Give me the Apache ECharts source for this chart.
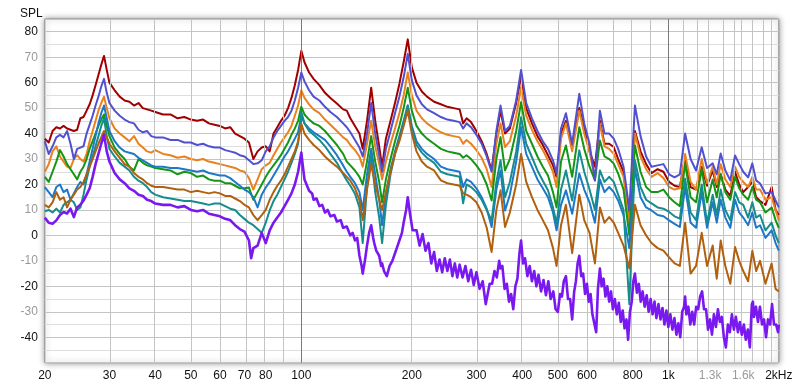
<!DOCTYPE html>
<html>
<head>
<meta charset="utf-8">
<script src="https://cdn.jsdelivr.net/npm/echarts@6/dist/echarts.min.js"></script>
<style>
html,body{margin:0;padding:0;background:#fff;}
#c{width:800px;height:386px;}
</style>
</head>
<body>
<div id="c"></div>
<script>
// ---- shared frequency grid (Hz) ----
const FREQ = [20,20.5,21,21.5,22,22.5,23,23.5,24,24.5,25,25.5,26,26.5,27,27.5,28,28.5,29,29.5,30,
31,32,33,34,35,36,37,38,39,40,42,44,46,48,50,52,54,56,58,60,62,64,66,68,70,72,74,76,78,80,82,84,86,88,90,92,94,96,98,
100,102,105,108,112,116,120,125,130,133,136,140,144,147,151,155,159,163,166,170,175,180,185,190,195,200,
206,213,220,230,240,250,260,270,276,282,290,300,310,320,330,340,349,359,370,385,397,410,425,440,455,470,485,496,
510,526,547,572,590,610,631,651,670,690,710,730,755,783,811,840,870,900,935,970,1005,1040,1075,1111,1150,1190,1233,1275,1321,1355,1389,1430,1475,1520,1560,1600,1650,1694,1735,1778,1840,1912,1960,2000];

const RED = [38,36.5,41,42.5,42,43,42,41.5,41,41.5,46,46.5,49,51.5,55,59,63,67,70.5,65,60,
57,54.5,53,52.5,51,52,50,49.5,49,48.5,47.5,47.5,46,46.5,45.5,45,45.5,44,43.5,43,42,42.5,40,39,38,36.5,30,33,34.5,35,33,40,42.5,45,47,50,54,59,65,
72.5,68,64,61.5,59,56,54,51.8,49.5,49,46,43,40,34,45,58,45,35,27,38,45,52,59.5,68,77,66,
60,56.5,54.5,52.5,51.5,50.5,50,49.5,44,46,44.5,41,37,32,25.5,40,49,40,42,52,62.5,50,44,39,35.5,31.5,27.5,23,
40,45,34.5,50,42,33,27,45,36,36,34.7,30,25,6,41,33,28,24.5,26,25,21,19.5,19,30.5,19,18,27,19.5,25.5,19,24,18,15.5,25,20,17,19,21,15,13.5,12,19,10,8];

const VIOLET = [37,32,35,38.5,39.5,38.5,41,36,30,34,34.5,35,40,43.5,47,51,54.5,58.5,61.5,56,52,
49,47,45.5,44.5,44,41.5,40.5,41,39,38.5,38.5,37.5,37.5,36.5,36.5,35.5,36,35,34.5,34.5,33.5,33,32.5,31.5,31,29.5,28,28.3,29.5,33,35,38.5,41,43,45,46.5,49,53,58,
64,60.5,57,54.5,53,50.5,48.5,46.5,44,42.5,40.5,37.5,34.5,31,40,52,40,31.5,25,34,41,48,54.5,62,71.3,61,
55,51.5,49.5,48,46.5,45.5,45,44.5,42,44,42.5,39.5,36,31,25,41,51,41,43,53,65,52,46,41,37,34,29.5,24.3,
42,48,36,55.6,44,36,21.6,49,40,40,38,34,27,10,51,39,31,27,27.5,28,24,22.8,24,40,30,25.5,34.6,26.5,28.3,24,32.2,25.5,21.6,31.4,28,25,22.8,28.3,21.6,20.4,16.5,17,13.7,11];

const ORANGE = [25,28,33,35,31,29,27,26.5,30,31.5,30,29,32,37,41,45,49,52,54.5,50,46,
42,40,38.5,37,39,36,34.5,33,32.5,33.5,32,31.5,30.5,31,30,29.5,30,29,28.5,28,27.5,27,26.5,25.5,25,22.5,18,22,26,27.5,28.5,31.5,34,36.5,38.5,40.5,43,47,51,
57,54,51.5,49.5,48,45.5,43.5,41,38.5,37.5,35.5,33.5,31,27,36,45,35,28,22,29,36,42,48,55,64,55,
49,46,44,42,40.5,39.5,39,38.5,36,37.5,36,33.5,30.5,26,19,36,44,34.7,37,47,58.2,47,41.5,37,33.5,29.5,25,19,
38,44,33,49,40,33,22,44,35,34,32,28,23,4,40,31,26,23,24.5,22.5,19,18,18.5,32,21,18,30,20.5,27,20,28,22,19,27,23,21,19,23,18,18,14,15,10,6];

const GREEN = [23,21,25,29,33.5,31,28,26,24,22,25,27,30,34,37,40,43,45.5,47.5,43,39,
34.5,32,30,27,25.5,30,28.5,27.5,27,26.5,26,25.5,24,25,24.5,23,23.5,22,21.5,21.5,20.5,20.5,19.5,18.5,18.5,18.8,14,17,20,23,25.5,27.5,29.5,31.5,34,36.5,39.5,42,45,
50.5,47.5,45.5,44,43,41,38.5,35.5,32,29,27.5,25.5,23,20,29,39,29,21,13,22,30,37,43,50,58,49,
43,40,38,36,34,33,32.5,32,30.5,31.5,30,27.5,24.5,20,13.7,30,38.6,25.5,30,41,52.3,41,36,31,27,23.5,17,11,
29,35.3,23,42.5,34,27,21.6,37.3,31,30,28.2,24.3,18,0,35.3,25,19,17,17,18,15,13,11.5,28.2,15,13,26,13,22,15,24,17,14,23,18.5,16,14,19,14,13,9,11,6,3];

const BLUE = [19,17,15,19,20,17,18,14,16.5,19,21,20,24,29,34,39,44,48,51,46,41,
37,34.5,33,32.5,32,30.5,29.5,28.5,27.5,27,27,26.5,26.5,26,25.5,25,25.5,24.5,24,23.5,23.5,22.5,21,19.5,18,17,15,11,16,18.8,21,23.5,26,28.5,31,33,35.5,38,40.5,
47,44,42,40.5,39,37.5,35,31.5,27.5,25,23,20.5,17,10,24,34,24,14,4,16,26,33,39,45,51,43,
37,34,32,30,27,26,25.5,25,19,22,21,18.5,15,10.5,3.3,18,25.5,9.8,16,29,42.5,32,27,22,18.5,15,9,2,
12,17.7,8.5,24.3,18,13,5,22,17,19,17,13.7,8,-5,26,15,11,9.8,8,7.5,5.9,4.5,3.3,19,5,3,17,3,13,5,14,7,3,14,9,7,4,9,3,4,-1,2,-3,-6];

const TEAL = [9.5,10,9,10.5,9,12,13,14,13,10,11,16,22,27,31,35,39,43,46,39,34,
31,28.5,27,25.5,23,21.5,20.5,19,17,16,15,14.5,14,13.5,13.5,13,12.5,12,12.5,12.5,11.5,10.5,10,8,6.5,5,4,2.5,1,5,9.8,13.5,16,19,22,25,28.5,32,36,
48.5,44,41,39.5,37.5,35,32,28.5,24,21.6,19.5,16.4,11,-3,19,31,17,7,-3,12,24,32,38,44,51,42,
35.5,32.5,30.5,28.5,25,24,23.5,23,12.6,20,19,17,14,10,5.9,21,29.5,15,21,33,46.4,36,30.7,25.5,21.5,17.7,11,4.7,
18,25.5,13.7,33.4,25,18,10,25.5,21,23,21,16,10,-27,29.5,19,14,12.6,11,10.5,9.2,7.5,6.6,22.3,9,6,20,5,16,8,18,10,6,17,13,12,7,13,7,8,2,5,0,-3];

const BROWN = [12,11,13,17,14,15,11,14,16,18,19,21,24,27,30,33,36,38.5,41,38.5,36,
33,30.5,28,27,24.5,23,22,20.5,19.5,19,19,18.5,18,18,17,17.5,17,16.5,17,16.5,15.5,15.5,14.5,13.5,12,11,8,6,8,10,14,17,19.5,21.5,24,27,30,33,37,
43.8,40,37.5,35.5,33.5,31,29,27,24.5,23,21.5,18.5,14,6,18,28,20,14,10,17,25,32,37,43,49,40,
33,29,27,25.5,21.6,20.5,20,19.5,16.5,16,15,13,9,3,-6.5,10,17.7,3.3,9,20,32,21,15,10,6,2,-5,-12,
4,12,-7,16,6,1,-11,11,5,7.2,5,1,-4,-13,12,4,0,-3,-5,-6,-8.6,-11,-12,5,-15,-12,1,-12,-4,-17,-2,-12,-19,-4.6,-10,-14,-18,-6,-14,-10,-19,-11,-21,-22];

// ---- purple series has its own, denser frequency list ----
const PURPLE_FREQ = [20,20.5,21,21.5,22,22.5,23,23.5,24,24.5,25,25.5,26,26.5,27,27.5,28,28.5,29,29.5,30,
31,32,33,34,35,36,37,38,39,40,42,44,46,48,50,52,54,56,58,60,62,64,66,68,70,72,73,74,76,78,80,82,84,86,88,90,92,94,96,98,
100,101,102,104,105,107,108,110,112,114,116,118,120,123,125,128,130,133,136,138,140,142,144,146,147,149,151,153,155,157,158,160,163,165,166,168,171,174,177,180,183,185,188,190,193,195,198,201,
206,210,214,218,222,226,230,234,238,242,246,250,254,258,262,266,270,275,280,285,290,295,300,306,312,318,322,326,331,336,341,346,349,353,358,363,368,373,378,383,388,393,397,402,407,413,419,425,431,437,443,450,457,464,471,478,486,493,500,507,513,519,526,533,540,547,554,560,566,572,579,586,593,600,607,614,621,628,636,643,651,658,666,674,682,690,698,706,715,724,733,742,751,760,769,777,786,795,803,811,821,831,841,851,862,873,884,895,906,917,928,940,952,964,976,988,1000,1013,1026,1039,1052,1065,1078,1091,1104,1111,1120,1134,1148,1162,1176,1191,1206,1221,1236,1251,1267,1283,1299,1315,1331,1348,1365,1382,1399,1417,1435,1453,1471,1490,1509,1528,1547,1566,1586,1606,1626,1647,1668,1689,1700,1711,1733,1755,1777,1800,1823,1846,1869,1893,1917,1941,1966,1991,2000];

const PURPLE = [7,5,4.6,5.9,8,9.2,8.6,10.5,7.2,11,12,13.7,16,18.5,23,28,32,36,39.5,33,29,
24.5,22,20.5,18.5,17.5,16,15.5,14,13.5,12.5,12,12,11,11.5,10,9.5,10,8.5,8,7.5,6.5,6,4,2.5,1.5,-2,-9,-5,-4,1,-3,2,5,7,9,11.5,14,16.5,20,25,
32.5,27,22,19,17.5,16.5,14,14.5,11.5,12,9,10,7.5,8,5.5,6,3,3.5,0,1,-2,-1,-8,-12,-15,-10,-4,1,4,-1,-3,-6,-8,-12,-11,-14,-16,-12,-10,-7,-4,-2,1,5,10,15,8,2,
2,-4,0.5,-6,-3,-11,-6.5,-14,-9.5,-14.5,-9,-14,-9.5,-16,-11,-16.5,-11.5,-16.5,-12,-18,-13.5,-19.5,-14.5,-21,-18,-27,-27,-19,-19,-14,-16.5,-10,-13,-12,-21,-19,-26,-23,-29,-20,-17,-7,-2,-11,-9,-16,-12,-18,-14,-20,-15.5,-22,-17.5,-23.5,-18,-25,-22,-29,-30,-23,-24,-18,-16,-25,-25,-33,-22,-18,-11,-8,-16,-15,-23,-19,-26,-23,-31,-31,-38,-21,-13,-20,-17,-24,-20,-26,-22,-29,-25,-31,-26.5,-34,-29.5,-36.5,-33,-41,-30,-26,-18,-15,-22.5,-19,-26,-22,-28,-23.5,-30,-25,-31,-26,-32.5,-27,-33,-28.5,-35,-29.5,-36,-31,-37,-32.5,-39,-34.5,-40,-30,-28,-24,-31,-28,-35,-30,-35,-28,-29,-24,-22,-29,-29,-37,-33,-39,-31,-36,-29,-34,-32,-40,-44,-35,-38,-31,-37,-32,-38,-34,-39,-35,-41,-37,-44,-27,-26,-32,-28,-34,-28,-35,-33,-40,-33,-35,-27,-35,-35,-38,-35];

// ---- axes / ticks ----
const X_LABEL_FREQS = [20,30,40,50,60,70,80,100,200,300,400,500,600,800,1000,1300,1600,2000];
const X_LABEL_TEXT  = ['20','30','40','50','60','70','80','100','200','300','400','500','600','800','1k','1.3k','1.6k','2kHz'];
const X_LABEL_GRAY  = ['1.3k','1.6k'];
const X_GRID_FREQS  = [30,40,50,60,70,80,90,200,300,400,500,600,700,800,900,1100,1200,1300,1400,1500,1600,1700,1800,1900];
const X_GRID_DARK   = [100,1000];
const Y_MIN = -50, Y_MAX = 85, Y_STEP = 10;

const SERIES_NAMES  = ['red','violet','orange','green','blue','teal','brown','purple'];
const SERIES_COLORS = ['#a00000','#5050d0','#e8821e','#149614','#1e78c8','#168c8c','#b0600e','#7a18f0'];

const lg = Math.log10;
function pts(fs, vs){ return fs.map((f,i)=>[lg(f), vs[i]]); }

const chart = echarts.init(document.getElementById('c'), null, {renderer:'canvas'});
const FONT = 'Liberation Sans, Arial, sans-serif';

const dataSets = [
  pts(FREQ, RED), pts(FREQ, ORANGE), pts(FREQ, GREEN), pts(FREQ, BLUE),
  pts(FREQ, TEAL), pts(FREQ, BROWN), pts(FREQ, VIOLET), pts(PURPLE_FREQ, PURPLE)
];
const order = [0,2,3,4,5,6,1,7];

const series = [{
  type:'line', name:'grid', data:[], silent:true, z:1,
  markLine:{
    silent:true, symbol:['none','none'], animation:false,
    label:{show:false},
    lineStyle:{color:'#c4c4c4', type:'solid', width:1},
    data: X_GRID_FREQS.map(f=>({xAxis: lg(f)})).concat(
      X_GRID_DARK.map(f=>({xAxis: lg(f), lineStyle:{color:'#7a7a7a', type:'solid', width:1}})))
  }
}];
dataSets.forEach((d,i)=>{
  const c = SERIES_COLORS[order[i]];
  const isPurple = order[i]===7;
  series.push({
    type:'line', name:SERIES_NAMES[order[i]], data:d, showSymbol:false, symbol:'none',
    lineStyle:{width: isPurple ? 2.6 : 2, color:c, join:'round'}, itemStyle:{color:c},
    z:3+i, silent:true, animation:false
  });
});

chart.setOption({
  animation:false,
  backgroundColor:'#ffffff',
  title:{text:'SPL', left:15, top:3, textStyle:{fontSize:12, fontWeight:'normal', color:'#111', fontFamily:FONT}},
  grid:{left:44.8, right:21.2, top:19, bottom:23.3, show:true, backgroundColor:'#fff',
        borderColor:'#8a8a8a', borderWidth:1, shadowColor:'rgba(0,0,0,0.4)', shadowBlur:6},
  xAxis:{
    type:'value', min:lg(20), max:lg(2000),
    axisLine:{show:false}, axisTick:{show:false}, splitLine:{show:false},
    axisLabel:{
      customValues: X_LABEL_FREQS.map(lg), margin:7, fontSize:12, fontFamily:FONT,
      showMinLabel:true, showMaxLabel:true,
      formatter:(v)=>{
        let idx = X_LABEL_FREQS.findIndex(f=>Math.abs(lg(f)-v)<1e-6);
        if(idx<0) return '';
        const t = X_LABEL_TEXT[idx];
        return X_LABEL_GRAY.includes(t) ? '{g|'+t+'}' : '{k|'+t+'}';
      },
      rich:{k:{color:'#111', fontSize:12, fontFamily:FONT}, g:{color:'#9a9a9a', fontSize:12, fontFamily:FONT}}
    }
  },
  yAxis:{
    type:'value', min:Y_MIN, max:Y_MAX, interval:Y_STEP,
    axisLine:{show:false}, axisTick:{show:false},
    splitLine:{lineStyle:{color:'#c4c4c4', width:1}},
    minorTick:{show:false, splitNumber:2},
    minorSplitLine:{show:true, lineStyle:{color:'#dedede', width:1}},
    axisLabel:{
      margin:7, fontSize:12, fontFamily:FONT,
      formatter:(v)=>{
        if(v<=-50 || v>80) return '';
        return (Math.round(v)%20===0) ? '{k|'+v+'}' : '{g|'+v+'}';
      },
      rich:{k:{color:'#111', fontSize:12, fontFamily:FONT}, g:{color:'#9a9a9a', fontSize:12, fontFamily:FONT}}
    }
  },
  series: series
});
</script>
</body>
</html>
